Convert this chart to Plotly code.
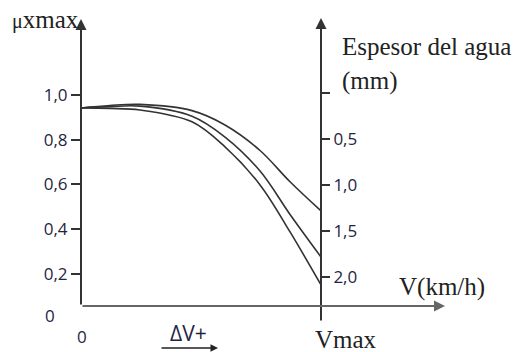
import plotly.graph_objects as go

# ---- data ----
speed_frac = [0.0, 0.12, 0.246, 0.4625, 0.6, 0.746, 0.871, 1.0]      # V / Vmax
mu_thin   = [0.942, 0.953, 0.958, 0.93, 0.866, 0.752, 0.612, 0.482]
mu_mid    = [0.942, 0.948, 0.950, 0.905, 0.812, 0.66, 0.466, 0.276]
mu_thick  = [0.942, 0.940, 0.933, 0.88, 0.768, 0.598, 0.388, 0.151]

mu_ticks = [0.2, 0.4, 0.6, 0.8, 1.0]
mu_labels = ["0,2", "0,4", "0,6", "0,8", "1,0"]
water_ticks = [0, 0.5, 1.0, 1.5, 2.0]
water_labels = ["", "0,5", "1,0", "1,5", "2,0"]

# ---- layout geometry (pixels) ----
W, H = 519, 352
L, R, T, B = 81, 321, 18, 306   # plot area box


def xp(px):
    return (px - L) / (R - L)


def yp(py):
    return (B - py) / (B - T)


LINE = "#333333"
TXT = "#1f2540"
SERIF = "Liberation Serif"
SANS = "Open Sans"

fig = go.Figure()
for ys in (mu_thin, mu_mid, mu_thick):
    fig.add_trace(go.Scatter(x=speed_frac, y=ys, mode="lines",
                             line=dict(color=LINE, width=1.6, shape="spline", smoothing=1.0),
                             hoverinfo="skip", showlegend=False))
# invisible trace to anchor the right-hand axis
fig.add_trace(go.Scatter(x=[1] * len(water_ticks), y=water_ticks, yaxis="y2", mode="markers",
                         marker=dict(opacity=0), hoverinfo="skip", showlegend=False))

fig.update_layout(
    width=W, height=H,
    margin=dict(l=L, r=W - R, t=T, b=H - B),
    paper_bgcolor="white", plot_bgcolor="white",
    xaxis=dict(range=[0, 1], visible=False, fixedrange=True),
    yaxis=dict(range=[0.057, 1.344], tickvals=mu_ticks, ticktext=mu_labels,
               ticks="outside", ticklen=9, tickwidth=2, tickcolor=LINE,
               showgrid=False, zeroline=False, showline=False, fixedrange=True,
               tickfont=dict(family=SANS, size=17, color=TXT)),
    yaxis2=dict(overlaying="y", side="right", anchor="x",
                range=[2.321, -0.823], tickvals=water_ticks, ticktext=water_labels,
                ticks="outside", ticklen=8, tickwidth=2, tickcolor=LINE,
                showgrid=False, zeroline=False, showline=False, fixedrange=True,
                tickfont=dict(family=SANS, size=17, color=TXT)),
    showlegend=False,
)

ann = []
# axes with arrowheads
ann.append(dict(xref="paper", yref="paper", x=0, y=yp(19), ax=0, ay=306 - 19,
                showarrow=True, arrowhead=2, arrowsize=1.1, arrowwidth=2, arrowcolor=LINE, text=""))
ann.append(dict(xref="paper", yref="paper", x=1, y=yp(18), ax=0, ay=322 - 18,
                showarrow=True, arrowhead=2, arrowsize=1.1, arrowwidth=2, arrowcolor=LINE, text=""))
ann.append(dict(xref="paper", yref="paper", x=xp(445), y=yp(306), ax=-(445 - L), ay=0,
                showarrow=True, arrowhead=2, arrowsize=1.1, arrowwidth=2, arrowcolor="#666666", text=""))
# small arrow under ΔV+
ann.append(dict(xref="paper", yref="paper", x=xp(218), y=yp(348), ax=-58, ay=0,
                showarrow=True, arrowhead=2, arrowsize=1, arrowwidth=1.5, arrowcolor="#222222", text=""))

texts = [
    ("<span style='font-size:20px'>μ</span>xmax", 10, 20, "left", SERIF, 25, "#222222"),
    ("Espesor del agua", 340, 46, "left", SERIF, 25, "#222222"),
    ("(mm)", 340, 81, "left", SERIF, 25, "#222222"),
    ("V(km/h)", 397, 287, "left", SERIF, 25, "#222222"),
    ("Vmax", 346, 339, "center", SERIF, 25, "#222222"),
    ("0", 82, 336, "center", SANS, 17, TXT),
    ("0", 50, 315, "center", SANS, 17, TXT),
    ("ΔV+", 188, 333, "center", SANS, 21, TXT),
]
for t, x, y, anc, fam, sz, col in texts:
    ann.append(dict(xref="paper", yref="paper", x=xp(x), y=yp(y), text=t, showarrow=False,
                    xanchor=anc, yanchor="middle", font=dict(family=fam, size=sz, color=col)))

fig.update_layout(annotations=ann)
fig.write_html("out.html", config={"displayModeBar": False, "staticPlot": True},
               post_script="document.body.style.margin='0';document.body.style.overflow='hidden';")
